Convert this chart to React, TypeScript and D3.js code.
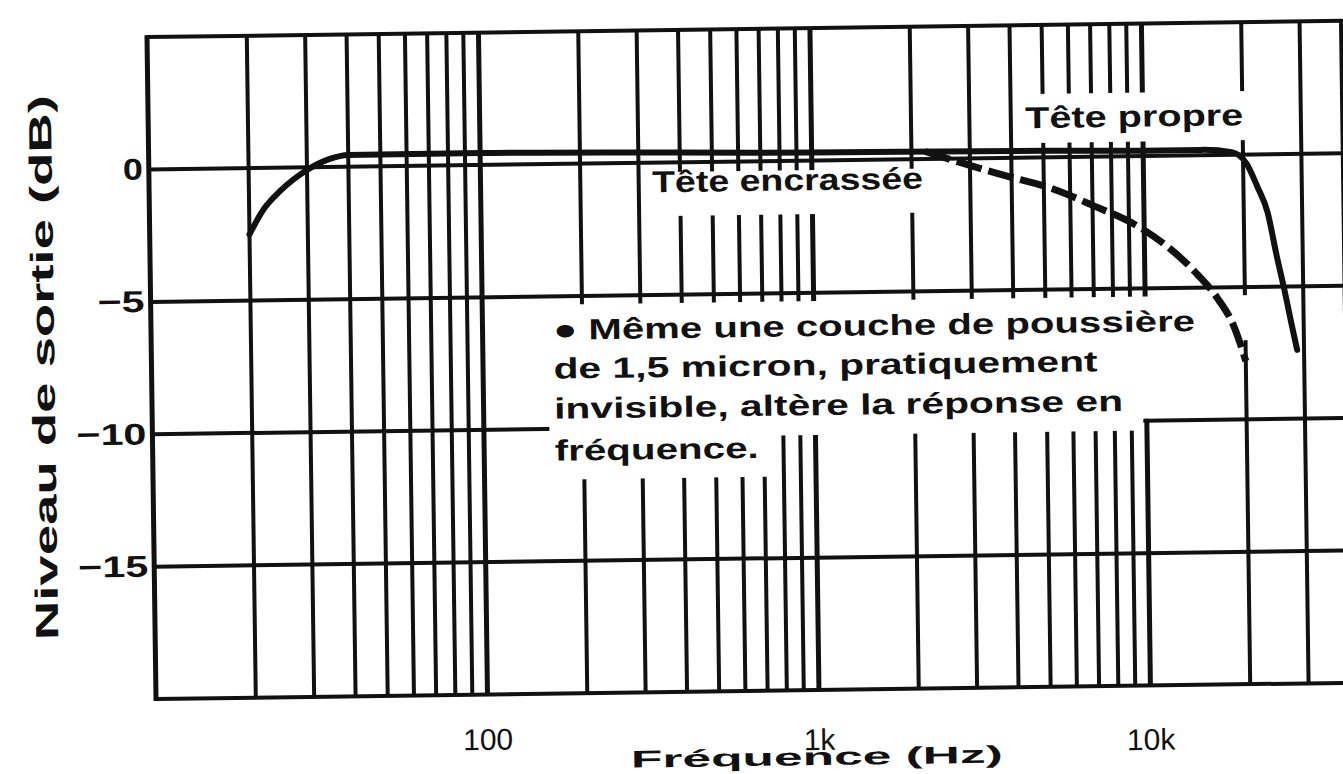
import React from "react";
import * as d3 from "d3";

// ---- data ----
const yTickValues = [0, -5, -10, -15];
const yTickLabels = ["0", "−5", "−10", "−15"];
const xTickValues = [100, 1000, 10000];
const xTickLabels = ["100", "1k", "10k"];

// "Tête propre" (clean head) – solid curve
const freqClean = [20, 22, 25, 30, 35, 40, 50, 100, 1000, 5000, 10000, 15000, 18500, 20500, 22000, 23600, 25000, 26300, 27500, 28600];
const levelClean = [-2.5, -1.6, -0.85, -0.1, 0.3, 0.45, 0.45, 0.45, 0.3, 0.25, 0.2, 0.2, 0.1, -0.35, -1.2, -2.2, -3.8, -5.1, -6.35, -7.4];

// "Tête encrassée" (dirty head) – dashed part
const freqDirty = [2200, 2800, 3900, 5200, 6900, 10000, 11900, 14400, 16500, 18500, 20000];
const levelDirty = [0.28, -0.15, -0.7, -1.15, -1.8, -2.8, -3.5, -4.5, -5.4, -6.5, -7.8];

const noteLines = [
  "● Même une couche de poussière",
  "de 1,5 micron, pratiquement",
  "invisible, altère la réponse en",
  "fréquence.",
];

const W = 1343;
const H = 774;
const FONT = "'Liberation Sans', Arial, Helvetica, sans-serif";
const TILT = 0.0136; // slope of the scanned page

export default function App() {
  const x = d3.scaleLog().domain([10, 50000]).range([152, 152 + 331.5 * Math.log10(5000)]);
  const y = d3.scaleLinear().domain([-20, 5]).range([691, 29]);

  const gridFreqs = x.ticks().filter((f) => f >= 20 && f <= 40000);
  const isDecade = (f: number) => Math.abs(Math.log10(f) - Math.round(Math.log10(f))) < 1e-9;

  const line = d3
    .line<[number, number]>()
    .x((d) => x(d[0]))
    .y((d) => y(d[1]))
    .curve(d3.curveMonotoneX);

  const cleanPts: [number, number][] = freqClean.map((f, i) => [f, levelClean[i]]);
  const dirtyPts: [number, number][] = freqDirty.map((f, i) => [f, levelDirty[i]]);

  const xL = x(10);
  const xR = W + 40;

  const noteX = 554;
  const noteBase = [337, 376, 416, 458];
  const noteLen = [642, 544, 569, 204];
  const yTickLen = [20, 47, 70, 70];

  return (
    <div style={{ position: "fixed", left: 0, top: 0 }}>
      <svg width={W} height={H} style={{ display: "block", background: "#fff" }}>
        <rect x={0} y={0} width={W} height={H} fill="#fff" />
        <g transform="rotate(-0.78 746 400)" fill="#111">
          {/* vertical grid */}
          {gridFreqs.map((f) => (
            <line
              key={"v" + f}
              x1={x(f)}
              x2={x(f)}
              y1={y(5)}
              y2={y(-20)}
              stroke="#111"
              strokeWidth={isDecade(f) ? 5 : 4}
            />
          ))}
          {/* horizontal grid + frame */}
          {[5, 0, -5, -10, -15, -20].map((v) => (
            <line key={"h" + v} x1={xL} x2={xR} y1={y(v)} y2={y(v)} stroke="#111" strokeWidth={4} />
          ))}
          <line x1={xL} x2={xL} y1={y(5) - 2} y2={y(-20) + 2} stroke="#111" strokeWidth={5} />

          {/* white paste-up boxes behind the texts */}
          <rect x={651} y={171} width={284} height={44} fill="#fff" />
          <rect x={1019} y={98} width={237} height={49} fill="#fff" />
          <rect x={549} y={302} width={710} height={45} fill="#fff" />
          <rect x={549} y={346} width={601} height={78} fill="#fff" />
          <rect x={549} y={423} width={594} height={13} fill="#fff" />
          <rect x={549} y={435} width={219} height={42} fill="#fff" />

          {/* curves */}
          <path d={line(cleanPts) || ""} fill="none" stroke="#111" strokeWidth={6} strokeLinecap="round" strokeLinejoin="round" />
          <path d={line(dirtyPts) || ""} fill="none" stroke="#111" strokeWidth={7} strokeDasharray="26 7" />

          {/* curve labels */}
          <text x={655} y={191} fontFamily={FONT} fontWeight="bold" fontSize={30} textLength={271} lengthAdjust="spacingAndGlyphs">
            Tête encrassée
          </text>
          <text x={1029} y={132} fontFamily={FONT} fontWeight="bold" fontSize={30} textLength={218} lengthAdjust="spacingAndGlyphs">
            Tête propre
          </text>

          {/* note */}
          {noteLines.map((t, i) => (
            <text
              key={"n" + i}
              x={noteX}
              y={noteBase[i]}
              fontFamily={FONT}
              fontWeight="bold"
              fontSize={29}
              textLength={noteLen[i]}
              lengthAdjust="spacingAndGlyphs"
            >
              {t}
            </text>
          ))}

          {/* y tick labels */}
          {yTickValues.map((v, i) => (
            <text
              key={"yt" + v}
              x={146 - yTickLen[i]}
              y={y(v) + 10}
              fontFamily={FONT}
              fontWeight="bold"
              fontSize={30}
              textLength={yTickLen[i]}
              lengthAdjust="spacingAndGlyphs"
            >
              {yTickLabels[i]}
            </text>
          ))}
          {/* x tick labels */}
          {xTickValues.map((v, i) => (
            <text
              key={"xt" + v}
              x={x(v)}
              y={750 + (x(v) - 746) * TILT}
              textAnchor="middle"
              fontFamily={FONT}
              fontSize={30}
            >
              {xTickLabels[i]}
            </text>
          ))}

          {/* axis titles */}
          <text x={812} y={766} textAnchor="middle" fontFamily={FONT} fontWeight="bold" fontSize={24} textLength={372} lengthAdjust="spacingAndGlyphs">
            Fréquence (Hz)
          </text>
          <text
            transform="translate(55 358) rotate(-90)"
            textAnchor="middle"
            fontFamily={FONT}
            fontWeight="bold"
            fontSize={32}
            textLength={545}
            lengthAdjust="spacingAndGlyphs"
          >
            Niveau de sortie (dB)
          </text>
        </g>
      </svg>
    </div>
  );
}
